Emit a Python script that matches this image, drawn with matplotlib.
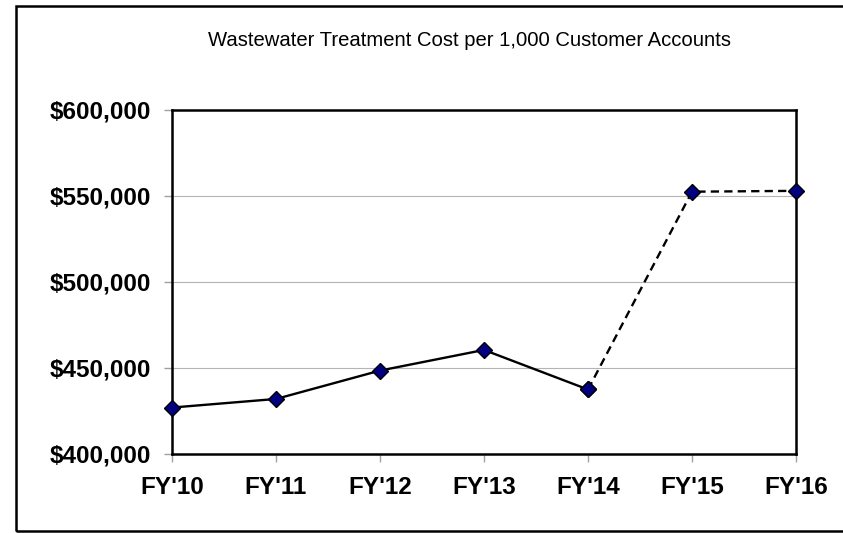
import matplotlib
matplotlib.use("Agg")
import matplotlib.pyplot as plt
from matplotlib.patches import Rectangle
from matplotlib.ticker import FuncFormatter

# values
years = ["FY'10", "FY'11", "FY'12", "FY'13", "FY'14", "FY'15", "FY'16"]
costs = [427000, 432000, 448500, 460500, 437500, 552500, 553000]
n_actual = 5  # FY'10..FY'14 solid, FY'14 onward dashed (projected)

plt.rcParams['font.family'] = ['Liberation Sans', 'DejaVu Sans']

fig = plt.figure(figsize=(8.43, 5.33), dpi=100)
ax = fig.add_axes([172 / 843, 1 - 454 / 533, (796 - 172) / 843, (454 - 110) / 533])

x = list(range(len(years)))
mk = dict(marker='D', markersize=8, markerfacecolor='#000080',
          markeredgecolor='black', markeredgewidth=1, color='black', lw=1.7)

ax.plot(x[n_actual - 1:], costs[n_actual - 1:], linestyle=(0, (3.5, 2.2)), **mk, zorder=3)
ax.plot(x[:n_actual], costs[:n_actual], linestyle='-', **mk, zorder=4)

ax.set_xlim(0, len(years) - 1)
ax.set_ylim(400000, 600000)
ax.set_xticks(x)
ax.set_xticklabels(years)
ax.set_yticks([400000, 450000, 500000, 550000, 600000])
ax.yaxis.set_major_formatter(FuncFormatter(lambda v, p: f"${v:,.0f}"))

for lab in ax.get_xticklabels() + ax.get_yticklabels():
    lab.set_fontweight('bold')
    lab.set_fontsize(17.5)

ax.tick_params(axis='both', direction='out', length=6, width=1, color='#a0a0a0', pad=10)
ax.tick_params(axis='y', pad=9)

for y in [450000, 500000, 550000]:
    ax.axhline(y, color='#b4b4b4', lw=0.8, zorder=1)

for s in ax.spines.values():
    s.set_linewidth(1.8)
    s.set_color('black')

for ln in ax.lines:
    ln.set_clip_on(False)

fig.text(469 / 843, 1 - 40 / 533, "Wastewater Treatment Cost per 1,000 Customer Accounts",
         ha='center', va='center', fontsize=14.6)

# outer chart border (right side runs off the image)
fig.patches.append(Rectangle((16 / 843, 1 - 531 / 533), 900 / 843, 525 / 533,
                             transform=fig.transFigure, fill=False,
                             edgecolor='black', lw=1.8))

fig.savefig("out.png", dpi=100)
